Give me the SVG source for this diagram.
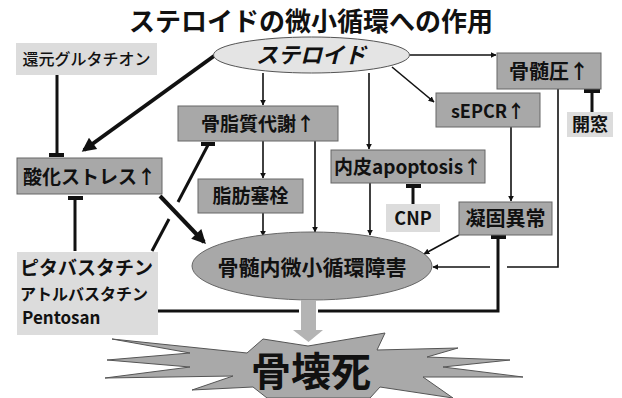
<svg xmlns="http://www.w3.org/2000/svg" width="622" height="398" viewBox="0 0 622 398">
<defs>
<style>
text{font-family:"Noto Sans CJK JP","Liberation Sans",sans-serif;fill:#111;text-anchor:middle}
.b{font-weight:700}
.box{fill:#a8a8a8;stroke:#666;stroke-width:1}
.lbox{fill:#dcdcdc;stroke:none}
.thin{stroke:#111;stroke-width:1.6;fill:none}
.thick{stroke:#111;stroke-width:4;fill:none}
.inh{stroke:#111;stroke-width:3;fill:none}
.bar{fill:#111}
</style>
<marker id="a" viewBox="0 0 10 10" refX="9" refY="5" markerWidth="6" markerHeight="6" orient="auto" markerUnits="userSpaceOnUse"><path d="M0,0 L10,5 L0,10 Z" fill="#111"/></marker>
<marker id="at" viewBox="0 0 10 10" refX="8" refY="5" markerWidth="16" markerHeight="14" orient="auto" markerUnits="userSpaceOnUse"><path d="M0,0 L10,5 L0,10 Z" fill="#111"/></marker>
</defs>
<rect width="622" height="398" fill="#fff"/>
<text x="311" y="31" class="b" font-size="26">ステロイドの微小循環への作用</text>

<g id="connectors">
<line class="inh" x1="57" y1="75" x2="57" y2="155"/><rect class="bar" x="49" y="153" width="15" height="4"/>
<line class="thick" x1="214" y1="56" x2="84" y2="150" marker-end="url(#at)"/>
<line class="thin" x1="263" y1="73" x2="263" y2="105" marker-end="url(#a)"/>
<line class="thin" x1="369" y1="73" x2="369" y2="149" marker-end="url(#a)"/>
<line class="thin" x1="410" y1="55" x2="496" y2="55" marker-end="url(#a)"/>
<line class="thin" x1="392" y1="67" x2="434" y2="102" marker-end="url(#a)"/>
<line class="inh" x1="592" y1="112" x2="592" y2="92"/><rect class="bar" x="584" y="89" width="16" height="4"/>
<polyline class="thin" points="558,89 558,267 507,267"/>
<line class="thin" x1="490" y1="267" x2="433" y2="267" marker-end="url(#a)"/>
<line class="thin" x1="511" y1="127" x2="511" y2="201" marker-end="url(#a)"/>
<line class="thin" x1="459" y1="235" x2="424" y2="254" marker-end="url(#a)"/>
<line class="thin" x1="263" y1="141" x2="263" y2="178" marker-end="url(#a)"/>
<line class="thin" x1="263" y1="213" x2="263" y2="236" marker-end="url(#a)"/>
<line class="thin" x1="315" y1="141" x2="315" y2="232" marker-end="url(#a)"/>
<line class="thin" x1="370" y1="183" x2="370" y2="235" marker-end="url(#a)"/>
<line class="inh" x1="413" y1="204" x2="413" y2="187"/><rect class="bar" x="406" y="184" width="15" height="4"/>
<line class="thick" x1="160" y1="196" x2="204" y2="242" marker-end="url(#at)"/>
<line class="inh" x1="152" y1="251" x2="169" y2="219"/>
<line class="inh" x1="178" y1="202" x2="208" y2="145"/><rect class="bar" x="201" y="142" width="14" height="4"/>
<line class="inh" x1="75" y1="251" x2="75" y2="199"/><rect class="bar" x="68" y="196" width="15" height="4"/>
<polyline class="inh" points="158,311 299,311"/>
<polyline class="inh" points="318,311 498,311 498,238"/><rect class="bar" x="491" y="235" width="15" height="4"/>
</g>

<g id="steroid"><ellipse cx="311.5" cy="55" rx="98" ry="18" fill="#e4e4e4" stroke="#555" stroke-width="1"/><text x="311" y="63" font-size="22" font-style="italic" class="b" font-weight="500">ステロイド</text></g>
<g id="glutathione"><rect class="lbox" x="16" y="43" width="141" height="32"/><text x="86.5" y="65" font-size="16" font-weight="500">還元グルタチオン</text></g>
<g id="lipid"><rect class="box" x="178" y="106" width="160" height="35"/><text x="258" y="131" font-size="19" class="b">骨脂質代謝↑</text></g>
<g id="fat"><rect class="box" x="198" y="179" width="105" height="34"/><text x="250.5" y="203" font-size="19" class="b">脂肪塞栓</text></g>
<g id="oxidative"><rect class="box" x="17" y="158" width="145" height="36"/><text x="89.5" y="184" font-size="19" class="b">酸化ストレス↑</text></g>
<g id="endothelial"><rect class="box" x="331" y="150" width="154" height="33"/><text x="408" y="174" font-size="19" class="b">内皮apoptosis↑</text></g>
<g id="cnp"><rect class="lbox" x="386" y="204" width="54" height="28"/><text x="413" y="225" font-size="18" class="b">CNP</text></g>
<g id="sepcr"><rect class="box" x="436" y="93" width="104" height="34"/><text x="488" y="118" font-size="18" class="b">sEPCR↑</text></g>
<g id="pressure"><rect class="box" x="497" y="53" width="104" height="36"/><text x="549" y="79" font-size="20" class="b">骨髄圧↑</text></g>
<g id="fenestration"><rect class="lbox" x="567" y="112" width="46" height="25"/><text x="590" y="131" font-size="18" class="b">開窓</text></g>
<g id="coag"><rect class="box" x="459" y="202" width="93" height="33"/><text x="505.5" y="226" font-size="20" class="b">凝固異常</text></g>
<g id="statins"><rect class="lbox" x="17" y="252" width="141" height="83"/>
<text x="20" y="275" font-size="19" class="b" style="text-anchor:start">ピタバスタチン</text>
<text x="20" y="300" font-size="16" class="b" style="text-anchor:start">アトルバスタチン</text>
<text x="22" y="324" font-size="17" class="b" style="text-anchor:start">Pentosan</text></g>
<g id="microcirc"><ellipse cx="312" cy="266" rx="120" ry="34" fill="#a8a8a8" stroke="#666" stroke-width="1"/><text x="312" y="275" font-size="21" class="b">骨髄内微小循環障害</text></g>
<g id="down-arrow"><polygon points="301,300 316,300 316,330 323,330 308.5,342 293,330 301,330" fill="#b4b4b4"/></g>
<g id="necrosis"><polygon points="112,339 247,353 263,339 308,346 385,333 377,350 458,348 427,357 510,360 443,367 523,377 423,377 453,398 380,387 370,398 267,398 253,387 192,390 233,376 105,378 190,367 107,360 190,353" fill="#a9a9a9" stroke="#555" stroke-width="1"/><text x="311" y="386" font-size="40" class="b">骨壊死</text></g>
</svg>
